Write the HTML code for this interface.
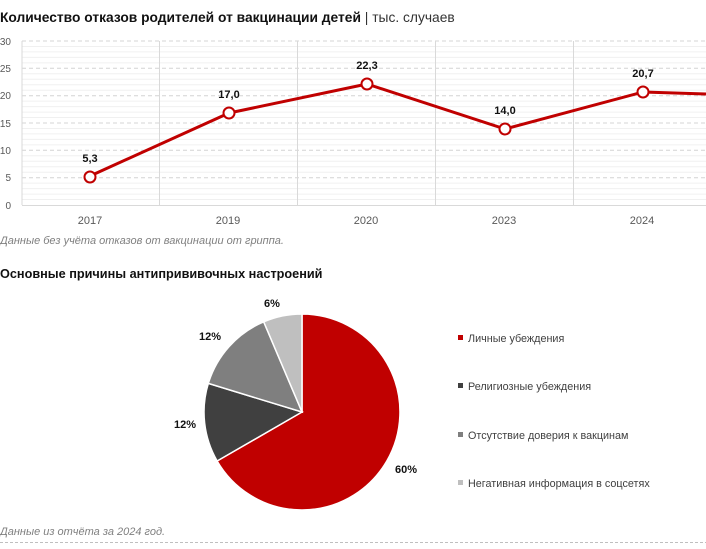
<!DOCTYPE html>
<html><head><meta charset="utf-8"><style>
body{margin:0;background:#fff;width:706px;height:549px;overflow:hidden}
svg{display:block;font-family:"Liberation Sans","DejaVu Sans",sans-serif}
</style></head><body>
<svg width="706" height="549" viewBox="0 0 706 549">
<text x="0" y="22" font-size="13.8" font-weight="bold" fill="#111">Количество отказов родителей от вакцинации детей <tspan font-weight="normal" fill="#333">| тыс. случаев</tspan></text>
<g stroke="#f0f0f0" stroke-width="1">
<line x1="22" x2="706" y1="199.5" y2="199.5"/><line x1="22" x2="706" y1="194.1" y2="194.1"/><line x1="22" x2="706" y1="188.6" y2="188.6"/><line x1="22" x2="706" y1="183.1" y2="183.1"/>
<line x1="22" x2="706" y1="172.2" y2="172.2"/><line x1="22" x2="706" y1="166.7" y2="166.7"/><line x1="22" x2="706" y1="161.3" y2="161.3"/><line x1="22" x2="706" y1="155.8" y2="155.8"/>
<line x1="22" x2="706" y1="144.9" y2="144.9"/><line x1="22" x2="706" y1="139.4" y2="139.4"/><line x1="22" x2="706" y1="133.9" y2="133.9"/><line x1="22" x2="706" y1="128.5" y2="128.5"/>
<line x1="22" x2="706" y1="117.5" y2="117.5"/><line x1="22" x2="706" y1="112.1" y2="112.1"/><line x1="22" x2="706" y1="106.6" y2="106.6"/><line x1="22" x2="706" y1="101.1" y2="101.1"/>
<line x1="22" x2="706" y1="90.2" y2="90.2"/><line x1="22" x2="706" y1="84.7" y2="84.7"/><line x1="22" x2="706" y1="79.3" y2="79.3"/><line x1="22" x2="706" y1="73.8" y2="73.8"/>
<line x1="22" x2="706" y1="62.9" y2="62.9"/><line x1="22" x2="706" y1="57.4" y2="57.4"/><line x1="22" x2="706" y1="51.9" y2="51.9"/><line x1="22" x2="706" y1="46.5" y2="46.5"/>
</g>
<g stroke="#d4d4d4" stroke-width="1" stroke-dasharray="4,3">
<line x1="22" x2="706" y1="177.7" y2="177.7"/><line x1="22" x2="706" y1="150.3" y2="150.3"/><line x1="22" x2="706" y1="123" y2="123"/><line x1="22" x2="706" y1="95.7" y2="95.7"/><line x1="22" x2="706" y1="68.3" y2="68.3"/><line x1="22" x2="706" y1="41" y2="41"/>
</g>
<g stroke="#d9d9d9" stroke-width="1">
<line x1="22" x2="22" y1="41" y2="205"/><line x1="159.5" x2="159.5" y1="41" y2="205"/><line x1="297.5" x2="297.5" y1="41" y2="205"/><line x1="435.5" x2="435.5" y1="41" y2="205"/><line x1="573.5" x2="573.5" y1="41" y2="205"/>
<line x1="22" x2="706" y1="205.5" y2="205.5"/>
</g>
<g font-size="10" fill="#595959" text-anchor="end">
<text x="11" y="209">0</text><text x="11" y="181">5</text><text x="11" y="154">10</text><text x="11" y="127">15</text><text x="11" y="99">20</text><text x="11" y="72">25</text><text x="11" y="45">30</text>
</g>
<g font-size="11" fill="#595959" text-anchor="middle">
<text x="90" y="224">2017</text><text x="228" y="224">2019</text><text x="366" y="224">2020</text><text x="504" y="224">2023</text><text x="642" y="224">2024</text>
</g>
<polyline points="90,176 229,113 367,84 505,129 643,92 706,94" fill="none" stroke="#c00000" stroke-width="3" stroke-linejoin="round"/>
<g fill="#fff" stroke="#c00000" stroke-width="2">
<circle cx="90" cy="177" r="5.5"/><circle cx="229" cy="113" r="5.5"/><circle cx="367" cy="84" r="5.5"/><circle cx="505" cy="129" r="5.5"/><circle cx="643" cy="92" r="5.5"/>
</g>
<g font-size="11" font-weight="bold" fill="#111" text-anchor="middle">
<text x="90" y="162">5,3</text><text x="229" y="98">17,0</text><text x="367" y="69">22,3</text><text x="505" y="114">14,0</text><text x="643" y="77">20,7</text>
</g>
<text x="0" y="244" font-size="11" font-style="italic" fill="#7f7f7f">Данные без учёта отказов от вакцинации от гриппа.</text>
<text x="0" y="278" font-size="12.7" font-weight="bold" fill="#111">Основные причины антипрививочных настроений</text>
<g stroke="#fff" stroke-width="1.5">
<path d="M302,412 L302,314 A98,98 0 1 1 217.1,461 Z" fill="#c00000"/>
<path d="M302,412 L217.1,461 A98,98 0 0 1 208.3,383.4 Z" fill="#404040"/>
<path d="M302,412 L208.3,383.4 A98,98 0 0 1 263.7,321.8 Z" fill="#7f7f7f"/>
<path d="M302,412 L263.7,321.8 A98,98 0 0 1 302,314 Z" fill="#bfbfbf"/>
</g>
<g font-size="11" font-weight="bold" fill="#111" text-anchor="middle">
<text x="272" y="307">6%</text><text x="210" y="340">12%</text><text x="185" y="428">12%</text><text x="406" y="473">60%</text>
</g>
<g font-size="10.8" fill="#404040">
<rect x="458" y="335" width="5" height="5" fill="#c00000"/><text x="468" y="342">Личные убеждения</text>
<rect x="458" y="383" width="5" height="5" fill="#404040"/><text x="468" y="390">Религиозные убеждения</text>
<rect x="458" y="432" width="5" height="5" fill="#7f7f7f"/><text x="468" y="439">Отсутствие доверия к вакцинам</text>
<rect x="458" y="480" width="5" height="5" fill="#bfbfbf"/><text x="468" y="487">Негативная информация в соцсетях</text>
</g>
<text x="0" y="535" font-size="11" font-style="italic" fill="#7f7f7f">Данные из отчёта за 2024 год.</text>
<line x1="0" x2="706" y1="542.5" y2="542.5" stroke="#bfbfbf" stroke-dasharray="3,2"/>
</svg>
</body></html>
